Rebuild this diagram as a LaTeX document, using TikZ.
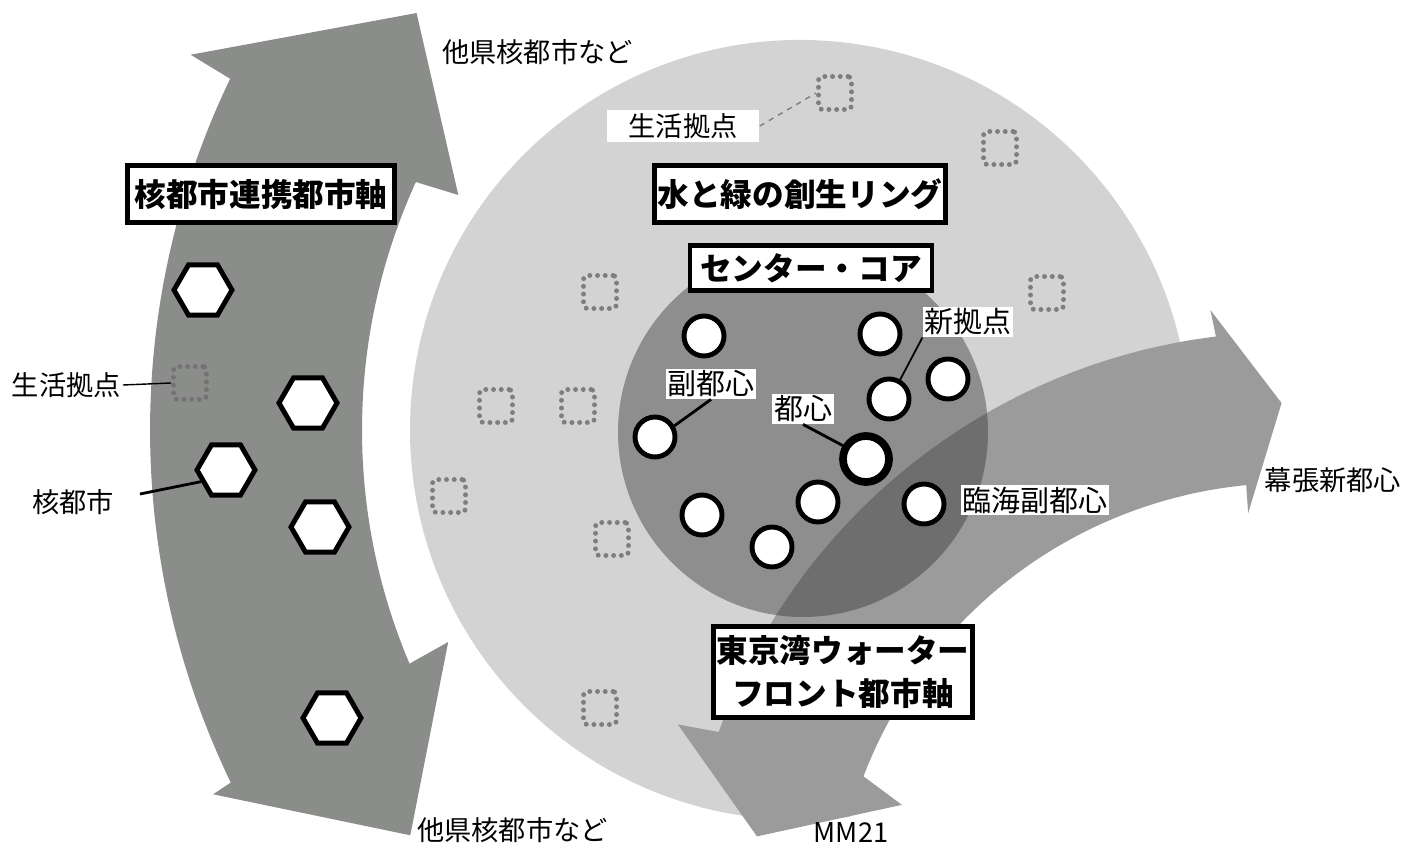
\documentclass[tikz,border=0pt]{standalone}
\usepackage{fontspec}
\setmainfont{Noto Sans CJK JP}
\usetikzlibrary{shapes.geometric,calc}
\definecolor{mapink}{HTML}{000000}
\definecolor{mapaxis}{HTML}{8B8D8A}
\definecolor{mapring}{HTML}{D3D3D3}
\definecolor{mapcore}{HTML}{8E8E8E}
\definecolor{mapbay}{HTML}{9B9B9B}
\definecolor{mapdeep}{HTML}{6E6E6E}
\definecolor{mapdot}{HTML}{7E7E7E}
\tikzset{
  axisbox/.style  = {rectangle, draw=mapink, line width=2.8pt, fill=white, align=center,
                     inner sep=0pt, font=\fontsize{18pt}{24pt}\selectfont\bfseries},
  lbl/.style      = {font=\fontsize{15.5pt}{18pt}\selectfont, inner sep=1pt},
  tag/.style      = {fill=white, inner sep=1pt, font=\fontsize{16.5pt}{19pt}\selectfont},
  city/.style     = {regular polygon, regular polygon sides=6, draw=mapink, line width=2.8pt,
                     fill=white, minimum size=1.16cm, inner sep=0pt},
  hub/.style      = {circle, draw=mapink, line width=2.8pt, fill=white,
                     minimum size=0.8cm, inner sep=0pt},
  lifebase/.style = {rectangle, rounded corners=2pt, draw=mapdot, line width=2.8pt,
                     dash pattern=on 0pt off 4.4pt, line cap=round,
                     minimum size=0.66cm, inner sep=0pt},
  leader/.style   = {draw=mapink, line width=1.6pt},
}
% band shapes, drawn around their own centres
\newcommand{\axisshape}{(155.5:598) arc[start angle=155.5, end angle=203, radius=598]
  -- (202.5:554) -- (216.4:683) -- (206:831) -- (205.8:810)
  arc[start angle=205.8, end angle=154.3, radius=810]
  -- (154:856) -- (142.5:685) -- (154.9:554) -- cycle}
\newcommand{\bayshape}{(97:608) arc[start angle=97, end angle=160, radius=608]
  -- (160.6:649) -- (169:543) -- (160.8:411) -- (159:457)
  arc[start angle=159, end angle=95.5, radius=457]
  -- (95.6:429) -- (90.9:537) -- (97.2:635) -- cycle}
% ring, cut off along the outer edge of the bay band
\newcommand{\ringshape}{(-9.65:390) arc[start angle=-9.65, end angle=277.4, radius=390]
  arc[start angle=164.36, end angle=103.35, radius=457] -- cycle}
\begin{document}
\begin{tikzpicture}[x=0.02cm, y=0.02cm]
\useasboundingbox (0,0) rectangle (1404,846);
\coordinate (coreC) at (803,414);
\coordinate (cityTail) at (140,352);

% areas
\fill[mapaxis, shift={(960,416)}] \axisshape;
\fill[mapring, shift={(800,416)}] \ringshape;
\fill[mapcore] (coreC) circle[radius=185];
\begin{scope}[shift={(1290,-94)}]
  \fill[mapbay] \bayshape;
  \clip \bayshape;
  \fill[mapdeep] (coreC) circle[radius=185];
\end{scope}

% life bases
\node[lifebase, draw=mapink!55] (s0) at (190,463) {};
\node[lifebase] (s1) at (835,753) {};
\node[lifebase] (s2) at (1000,698) {};
\node[lifebase] (s3) at (1047,553) {};
\node[lifebase] (s4) at (600,554) {};
\node[lifebase] (s5) at (496,440) {};
\node[lifebase] (s6) at (578,440) {};
\node[lifebase] (s7) at (449,350) {};
\node[lifebase] (s8) at (612,307) {};
\node[lifebase] (s9) at (600,138) {};

% core cities
\node[city] (h1) at (203,556) {};
\node[city] (h2) at (308,443) {};
\node[city] (h3) at (226,376) {};
\node[city] (h4) at (320,319) {};
\node[city] (h5) at (332,128) {};

% centres in the core
\node[hub] (c1) at (704,510) {};
\node[hub] (c2) at (880,512) {};
\node[hub] (c3) at (889,447) {};
\node[hub] (c4) at (948,467) {};
\node[hub] (c5) at (655,409) {};
\node[hub, line width=4.4pt, minimum size=0.92cm] (c6) at (866,387) {};
\node[hub] (c7) at (702,331) {};
\node[hub] (c8) at (818,344) {};
\node[hub] (c9) at (772,299) {};
\node[hub] (c10) at (924,342) {};

% titles
\node[axisbox, minimum width=5.34cm, minimum height=1.14cm] (axisL) at (261,652) {核都市連携都市軸};
\node[axisbox, minimum width=5.82cm, minimum height=1.14cm] (ringBox) at (800,652) {水と緑の創生リング};
\node[axisbox, minimum width=4.84cm, minimum height=0.9cm] (coreBox) at (811,578) {センター・コア};
\node[axisbox, minimum width=5.18cm, minimum height=1.82cm] (bayBox) at (843,174) {東京湾ウォーター\\フロント都市軸};

% labels
\node[lbl, anchor=west] (otherN) at (440,794) {他県核都市など};
\node[lbl, anchor=west] (otherS) at (415,16) {他県核都市など};
\node[lbl, fill=white, minimum width=3.06cm, minimum height=0.64cm] (lifeN) at (683,720) {生活拠点};
\node[lbl, anchor=east] (lifeW) at (123,461) {生活拠点};
\node[lbl] (coreCity) at (73,344) {核都市};
\node[tag] (lblNew) at (968,524) {新拠点};
\node[tag] (lblSub) at (711,462) {副都心};
\node[tag] (lblCenter) at (803,437) {都心};
\node[tag] (lblRinkai) at (1035,346) {臨海副都心};
\node[lbl] (lblMakuhari) at (1333,366) {幕張新都心};
\node[lbl] (lblMM) at (851,13) {MM21};

% leaders
\draw[draw=mapink, line width=0.8pt] (lifeW.east) -- (s0.west);
\draw[draw=mapdot, line width=0.8pt, dashed] (lifeN.east) -- (s1.west);
\draw[leader] (cityTail) -- (h3.205);
\draw[draw=mapink, line width=1pt] (lblNew.south west) -- (c3.60);
\draw[leader] (lblSub.south) -- (c5.30);
\draw[leader] (lblCenter.south) -- (c6.150);
\end{tikzpicture}
\end{document}
